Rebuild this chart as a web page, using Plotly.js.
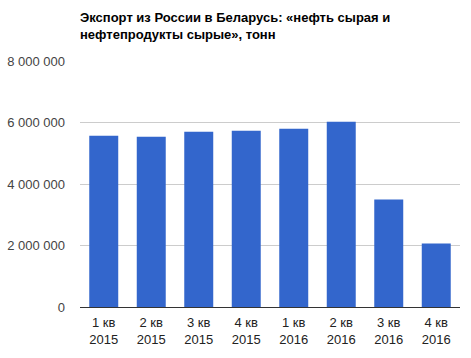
<!DOCTYPE html>
<html>
<head>
<meta charset="utf-8">
<script src="https://cdn.plot.ly/plotly-3.0.1.min.js"></script>
<style>html,body{margin:0;padding:0;background:#fff;}#chart{width:471px;height:358px;}</style>
</head>
<body>
<div id="chart"></div>
<script>
var categories = ["1 кв<br>2015", "2 кв<br>2015", "3 кв<br>2015", "4 кв<br>2015", "1 кв<br>2016", "2 кв<br>2016", "3 кв<br>2016", "4 кв<br>2016"];
var exportTons = [5570000, 5540000, 5700000, 5735000, 5800000, 6025000, 3495000, 2065000];
var yTicks = [0, 2000000, 4000000, 6000000, 8000000];
var yTickLabels = ["0", "2 000 000", "4 000 000", "6 000 000", "8 000 000"];
var titleText = "Экспорт из России в Беларусь: «нефть сырая и<br>нефтепродукты сырые», тонн";

var trace = {
  type: "bar",
  x: categories,
  y: exportTons,
  marker: {color: "#3366cc"},
  hoverinfo: "none"
};

var layout = {
  width: 471,
  height: 358,
  margin: {l: 80, r: 11, t: 61, b: 51},
  paper_bgcolor: "#fff",
  plot_bgcolor: "#fff",
  font: {family: "Liberation Sans, Arial, sans-serif", size: 13, color: "#444"},
  title: {
    text: titleText,
    x: 80 / 471,
    xref: "container",
    xanchor: "left",
    y: 1 - 22 / 358,
    yref: "container",
    yanchor: "top",
    font: {family: "Liberation Sans, Arial, sans-serif", size: 13, color: "#000", weight: "bold"}
  },
  bargap: 0.39,
  showlegend: false,
  xaxis: {
    type: "category",
    showgrid: false,
    showline: true,
    linecolor: "#333",
    linewidth: 1,
    ticks: "",
    ticklabelstandoff: 3,
    tickfont: {size: 13, color: "#222"}
  },
  yaxis: {
    range: [0, 8000000],
    tickvals: yTicks,
    ticktext: yTickLabels,
    showgrid: true,
    gridcolor: "#cccccc",
    zeroline: true,
    zerolinecolor: "#333",
    zerolinewidth: 1,
    ticks: "",
    ticklabelstandoff: 14,
    tickfont: {size: 13, color: "#444"}
  }
};

Plotly.newPlot("chart", [trace], layout, {displayModeBar: false, staticPlot: true});
</script>
</body>
</html>
